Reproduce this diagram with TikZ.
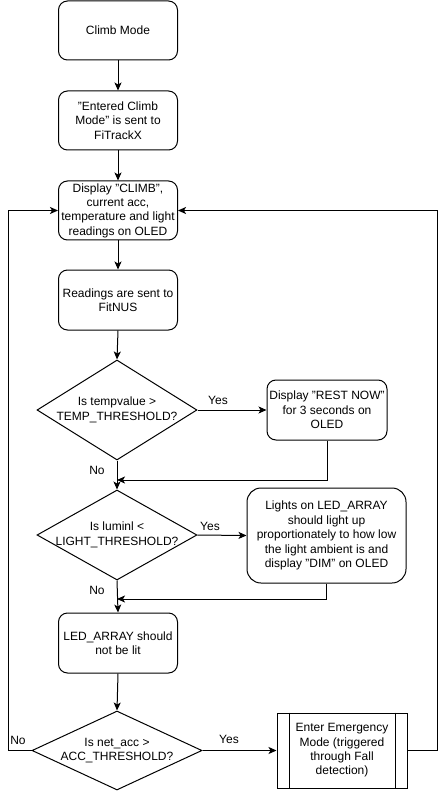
\documentclass[tikz,border=0pt]{standalone}
\usepackage{fontspec}
\setmainfont{Liberation Sans}
\usetikzlibrary{shapes.geometric,arrows.meta}
\begin{document}
\begin{tikzpicture}[x=1pt,y=-1pt,
  every node/.style={font=\fontsize{12}{14.4}\selectfont},
  box/.style={draw,line width=1pt,rounded corners=9pt,align=center,inner sep=0pt},
  dec/.style={draw,line width=1pt,diamond,inner sep=0pt},
  txt/.style={align=center,inner sep=0pt},
  lbl/.style={inner sep=0pt},
  arr/.style={line width=1pt,-{Stealth[length=8pt,width=7pt,inset=2pt]}},
  ln/.style={line width=1pt}]
\useasboundingbox (0,0) rectangle (446,791);
\node[box,minimum width=119pt,minimum height=59pt] (start) at (118,30.5) {Climb Mode};
\node[box,minimum width=119pt,minimum height=59pt] (sent) at (118,120.5) {"Entered Climb\\Mode" is sent to\\FiTrackX};
\node[box,minimum width=119pt,minimum height=59pt] (disp) at (118,210.5) {Display "CLIMB",\\current acc,\\temperature and light\\readings on OLED};
\node[box,minimum width=119pt,minimum height=60pt] (read) at (118,300) {Readings are sent to\\FitNUS};
\node[dec,minimum width=160pt,minimum height=100pt] (d1) at (117,410) {};
\node[txt] (d1t) at (117,410) {Is tempvalue >\\TEMP\_THRESHOLD?};
\node[box,minimum width=120pt,minimum height=60pt] (rest) at (327,410) {Display "REST NOW"\\for 3 seconds on\\OLED};
\node[dec,minimum width=160pt,minimum height=90pt] (d2) at (117,535) {};
\node[txt] (d2t) at (117,535) {Is luminl <\\LIGHT\_THRESHOLD?};
\node[box,rounded corners=14pt,minimum width=159pt,minimum height=95pt] (lights) at (326.5,535.5) {Lights on LED\_ARRAY\\should light up\\proportionately to how low\\the light ambient is and\\display "DIM" on OLED};
\node[box,minimum width=119pt,minimum height=60pt] (led) at (118,643) {LED\_ARRAY should\\not be lit};
\node[dec,minimum width=170pt,minimum height=79pt] (d3) at (117,750.5) {};
\node[txt] (d3t) at (117,750.5) {Is net\_acc >\\ACC\_THRESHOLD?};
\node[draw,line width=1pt,minimum width=130pt,minimum height=75pt,inner sep=0pt] (emerg) at (342,750.5) {};
\draw[ln] ([xshift=12.5pt]emerg.north west) -- ([xshift=12.5pt]emerg.south west);
\draw[ln] ([xshift=-12.5pt]emerg.north east) -- ([xshift=-12.5pt]emerg.south east);
\node[txt] (emergt) at (342,750.5) {Enter Emergency\\Mode (triggered\\through Fall\\detection)};
% connectors
\coordinate (j1) at (117,480);
\coordinate (j2) at (117,599);
\coordinate (lft) at (8,210.5);
\coordinate (rgt) at (437,210.5);
\draw[arr] (start) -- (sent);
\draw[arr] (sent) -- (disp);
\draw[arr] (disp) -- (read);
\draw[arr] (read.south) -- (d1.north);
\draw[arr] (d1.east) -- (rest.west);
\draw[arr] (d1.south) -- (d2.north);
\draw[arr] (rest.south) |- (j1);
\draw[arr] (d2.east) -- (lights.west);
\draw[arr] (d2.south) -- (led.north);
\draw[arr] (lights.south) |- (j2);
\draw[arr] (led.south) -- (d3.north);
\draw[arr] (d3.east) -- (emerg.west);
\draw[arr] (d3.west) -| (lft) -- (disp.west);
\draw[arr] (emerg.east) -| (rgt) -- (disp.east);
% labels
\node[lbl] (y1) at (218,400) {Yes};
\node[lbl] (n1) at (97,470) {No};
\node[lbl] (y2) at (210,526) {Yes};
\node[lbl] (n2) at (97,590) {No};
\node[lbl] (y3) at (229,739) {Yes};
\node[lbl] (n3) at (18,740) {No};
\end{tikzpicture}
\end{document}
